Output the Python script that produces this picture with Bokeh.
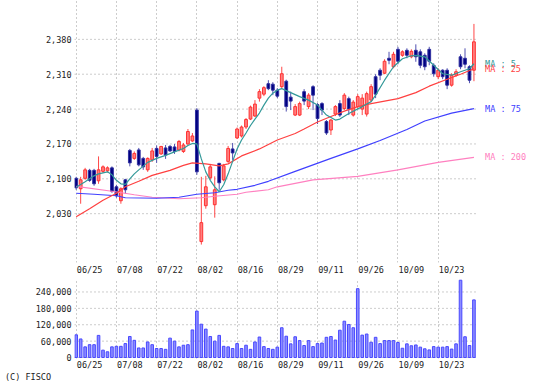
from bokeh.plotting import figure
from bokeh.layouts import column
from bokeh.models import Range1d, FixedTicker, NumeralTickFormatter, Label, ColumnDataSource, Div
from bokeh.embed import file_html
from bokeh.resources import INLINE

# ---------------- data ----------------
open_ = [2101, 2080, 2101, 2117, 2117, 2096, 2115, 2116, 2122, 2084, 2056, 2098, 2157, 2141, 2158, 2141, 2118, 2138,
         2161, 2150, 2162, 2165, 2164, 2158, 2155, 2170, 2176, 2238, 1974, 2046, 2102, 2048, 2131, 2098, 2135, 2160,
         2182, 2186, 2204, 2220, 2226, 2262, 2270, 2291, 2290, 2278, 2285, 2296, 2264, 2228, 2228, 2275, 2245, 2285,
         2249, 2251, 2215, 2198, 2230, 2251, 2241, 2261, 2228, 2245, 2240, 2230, 2258, 2305, 2318, 2312, 2342, 2325,
         2360, 2348, 2358, 2345, 2358, 2355, 2348, 2360, 2328, 2305, 2318, 2318, 2288, 2308, 2345, 2342, 2325, 2318]
high = [2104, 2104, 2122, 2120, 2120, 2145, 2127, 2125, 2125, 2088, 2083, 2100, 2160, 2155, 2162, 2144, 2143, 2162,
        2167, 2166, 2168, 2168, 2170, 2178, 2172, 2200, 2192, 2242, 2104, 2106, 2130, 2105, 2132, 2130, 2166, 2172,
        2203, 2207, 2222, 2247, 2258, 2280, 2286, 2298, 2294, 2282, 2325, 2299, 2275, 2250, 2255, 2280, 2272, 2288,
        2252, 2254, 2218, 2220, 2248, 2258, 2272, 2265, 2258, 2270, 2270, 2275, 2290, 2310, 2322, 2340, 2355, 2355,
        2365, 2358, 2362, 2360, 2370, 2360, 2352, 2365, 2332, 2322, 2320, 2322, 2312, 2320, 2350, 2362, 2328, 2411]
low = [2078, 2050, 2098, 2094, 2086, 2090, 2112, 2113, 2072, 2062, 2050, 2070, 2125, 2138, 2125, 2118, 2114, 2134,
       2132, 2148, 2140, 2154, 2150, 2155, 2152, 2168, 2174, 2108, 1968, 2040, 2098, 2022, 2078, 2095, 2132, 2138,
       2180, 2183, 2200, 2218, 2224, 2255, 2266, 2278, 2268, 2262, 2282, 2235, 2238, 2226, 2226, 2248, 2240, 2238,
       2210, 2228, 2188, 2188, 2226, 2224, 2238, 2228, 2225, 2240, 2228, 2225, 2254, 2262, 2298, 2310, 2330, 2322,
       2330, 2345, 2342, 2342, 2335, 2322, 2318, 2328, 2305, 2300, 2300, 2280, 2285, 2305, 2320, 2322, 2292, 2296]
close = [2082, 2098, 2118, 2097, 2090, 2118, 2124, 2122, 2075, 2066, 2080, 2078, 2132, 2151, 2128, 2124, 2141, 2156,
         2145, 2165, 2148, 2156, 2155, 2175, 2168, 2195, 2186, 2114, 2012, 2084, 2124, 2078, 2092, 2126, 2161, 2152,
         2200, 2204, 2219, 2244, 2250, 2275, 2283, 2281, 2278, 2266, 2311, 2245, 2256, 2245, 2251, 2256, 2268, 2268,
         2221, 2238, 2192, 2218, 2245, 2228, 2268, 2240, 2254, 2265, 2262, 2271, 2285, 2270, 2308, 2336, 2338, 2350,
         2336, 2355, 2348, 2356, 2345, 2328, 2325, 2336, 2311, 2318, 2305, 2288, 2308, 2315, 2325, 2330, 2298, 2375]
volume = [83000, 68000, 39000, 47000, 47000, 81000, 27000, 21000, 39000, 41000, 41000, 51000, 77000, 63000, 35000,
          35000, 57000, 47000, 33000, 33000, 30000, 71000, 60000, 39000, 45000, 47000, 101000, 170000, 122000, 104000,
          77000, 60000, 81000, 41000, 39000, 33000, 51000, 33000, 45000, 30000, 57000, 75000, 40000, 33000, 30000,
          38000, 109000, 78000, 50000, 76000, 62000, 44000, 62000, 40000, 51000, 53000, 74000, 77000, 64000, 100000,
          133000, 121000, 109000, 252000, 82000, 86000, 56000, 74000, 51000, 62000, 62000, 62000, 55000, 34000, 50000,
          43000, 46000, 38000, 32000, 28000, 40000, 38000, 38000, 40000, 31000, 50000, 283000, 76000, 44000, 211000]

date_ticks = [0, 9, 18, 27, 36, 45, 54, 63, 72, 81]
date_labels = ["06/25", "07/08", "07/22", "08/02", "08/16", "08/29", "09/11", "09/26", "10/09", "10/23"]
price_ticks = [2030, 2100, 2170, 2240, 2310, 2380]
volume_ticks = [0, 60000, 120000, 180000, 240000]

ma5_x = [0, 2, 4, 5, 7, 8, 9, 10, 11, 12, 13, 14, 16, 18, 20, 22, 24, 25, 26, 27, 28, 29, 30, 31, 32, 33, 34, 35,
         36, 37, 38, 39, 40, 41, 42, 43, 44, 45, 46, 48, 50, 52, 54, 56, 58, 59, 61, 64, 66, 67, 69, 71, 73, 75, 76,
         78, 80, 82, 84, 86, 88, 89]
ma5_y = [2083, 2094, 2106, 2110, 2114, 2108, 2097, 2090, 2089, 2100, 2110, 2118, 2133, 2141, 2147, 2154, 2161, 2167,
         2171, 2170, 2140, 2114, 2097, 2084, 2074, 2088, 2110, 2135, 2160, 2178, 2192, 2207, 2220, 2232, 2248, 2262,
         2272, 2278, 2281, 2273, 2265, 2258, 2248, 2228, 2218, 2220, 2231, 2245, 2255, 2268, 2298, 2325, 2341, 2347,
         2348, 2345, 2328, 2311, 2308, 2315, 2321, 2331]
ma25_x = [0, 3, 6, 9, 11, 14, 17, 21, 24, 26, 29, 32, 34, 37, 41, 45, 49, 51, 54, 57, 60, 63, 66, 72, 76, 79, 83,
          86, 89]
ma25_y = [2024, 2040, 2057, 2071, 2084, 2095, 2107, 2117, 2127, 2132, 2130, 2126, 2130, 2146, 2160, 2178, 2191, 2200,
          2214, 2225, 2236, 2245, 2251, 2261, 2273, 2286, 2300, 2310, 2321]
ma75_x = [0, 4, 9, 11, 18, 23, 27, 31, 34, 36, 40, 43, 49, 57, 63, 68, 74, 78, 84, 89]
ma75_y = [2071, 2069, 2066, 2062, 2061, 2063, 2069, 2072, 2077, 2079, 2087, 2095, 2115, 2141, 2160, 2177, 2199, 2216,
          2232, 2241]
ma200_x = [0, 8, 13, 17, 23, 28, 31, 36, 38, 43, 45, 53, 63, 72, 81, 89]
ma200_y = [2085, 2075, 2068, 2063, 2060, 2062, 2065, 2069, 2073, 2078, 2084, 2098, 2105, 2118, 2133, 2143]

# ---------------- styles ----------------
FONT = "DejaVu Sans Mono"
FS = "8.5px"
TXT = "#222222"
GRID = "#9a9a9a"
UP_FILL, UP_LINE, UP_WICK = "#ff8080", "#ff3030", "#ff4848"
DN_FILL, DN_LINE, DN_WICK = "#000080", "#3030a0", "#5050b0"
C_MA5, C_MA25, C_MA75, C_MA200 = "#339999", "#ff4040", "#4040ff", "#ff80c0"

n = len(close)
idx = list(range(n))
up = [c >= o for o, c in zip(open_, close)]
src = ColumnDataSource(dict(
    x=idx, high=high, low=low,
    top=[max(o, c) for o, c in zip(open_, close)],
    bottom=[min(o, c) for o, c in zip(open_, close)],
    fill=[UP_FILL if u else DN_FILL for u in up],
    line=[UP_LINE if u else DN_LINE for u in up],
    wick=[UP_WICK if u else DN_WICK for u in up],
    vol=volume,
))

# frame: 4.469 px per trading day; grid area ends at GRID_END, labels live to its right
X0 = -0.38
GRID_END = 89.57
W, LEFT = 538, 74
x_range = Range1d(X0, X0 + (W - LEFT) / 4.469)


def style(p, yticks):
    p.outline_line_color = None
    p.toolbar.logo = None
    for ax in (p.xaxis[0], p.yaxis[0]):
        ax.axis_line_color = None
        ax.major_tick_line_color = None
        ax.minor_tick_line_color = None
        ax.major_tick_out = 0
        ax.major_tick_in = 0
        ax.minor_tick_out = 0
        ax.major_label_text_font = FONT
        ax.major_label_text_font_size = FS
        ax.major_label_text_color = TXT
    p.yaxis[0].ticker = FixedTicker(ticks=yticks)
    p.yaxis[0].formatter = NumeralTickFormatter(format="0,0")
    p.yaxis[0].major_label_standoff = 3
    # date labels start at their grid line
    p.xaxis[0].ticker = FixedTicker(ticks=[t + 3 for t in date_ticks])
    p.xaxis[0].major_label_overrides = {t + 3: l for t, l in zip(date_ticks, date_labels)}
    p.xgrid[0].ticker = FixedTicker(ticks=date_ticks)
    p.xgrid[0].grid_line_color = GRID
    p.xgrid[0].grid_line_dash = "1 3"
    p.ygrid[0].grid_line_color = None
    # horizontal grid lines stop at the right end of the chart area
    p.segment(x0=[X0] * len(yticks), y0=yticks, x1=[GRID_END] * len(yticks), y1=yticks,
              line_color=GRID, line_dash="1 3", line_width=1)


# ---------------- price chart ----------------
p = figure(width=W, height=277, x_range=x_range, y_range=Range1d(1932, 2458),
           output_backend="svg", toolbar_location=None, min_border_left=LEFT, min_border_right=0,
           min_border_top=0, min_border_bottom=14)
style(p, price_ticks)
p.xaxis[0].major_label_standoff = 2

p.segment(x0="x", y0="low", x1="x", y1="high", color="wick", line_width=1, source=src)
p.vbar(x="x", width=0.62, top="top", bottom="bottom", fill_color="fill", line_color="line",
       line_width=1, source=src)

p.line(ma200_x, ma200_y, color=C_MA200, line_width=1.2)
p.line(ma75_x, ma75_y, color=C_MA75, line_width=1.2)
p.line(ma25_x, ma25_y, color=C_MA25, line_width=1.2)
p.line(ma5_x, ma5_y, color=C_MA5, line_width=1.2)

lab_x = idx[-1] + 2.5
for txt, yv, col in [("MA : 200", ma200_y[-1], C_MA200), ("MA : 75", ma75_y[-1], C_MA75),
                     ("MA : 5", ma5_y[-1], C_MA5), ("MA : 25", ma25_y[-1], C_MA25)]:
    p.add_layout(Label(x=lab_x, y=yv, text=txt, text_color=col, text_font=FONT, text_font_size=FS,
                       text_baseline="middle", text_align="left"))

# ---------------- volume chart ----------------
v = figure(width=W, height=95, x_range=x_range, y_range=Range1d(-3571, 289286),
           output_backend="svg", toolbar_location=None, min_border_left=LEFT, min_border_right=0,
           min_border_top=1, min_border_bottom=12)
style(v, volume_ticks)
v.xaxis[0].major_label_standoff = 1
v.vbar(x="x", width=0.58, top="vol", bottom=0, fill_color="#8c8cff", line_color="#4848ff",
       line_width=1, source=src)

credit = Div(text="(C) FISCO", width=200, height=14, margin=(0, 0, 0, 0),
             styles={"font-family": FONT, "font-size": FS, "color": TXT, "padding-left": "5px",
                     "line-height": "10px"})

layout = column(p, v, credit, spacing=0)
open("out.html", "w").write(file_html(layout, INLINE))
